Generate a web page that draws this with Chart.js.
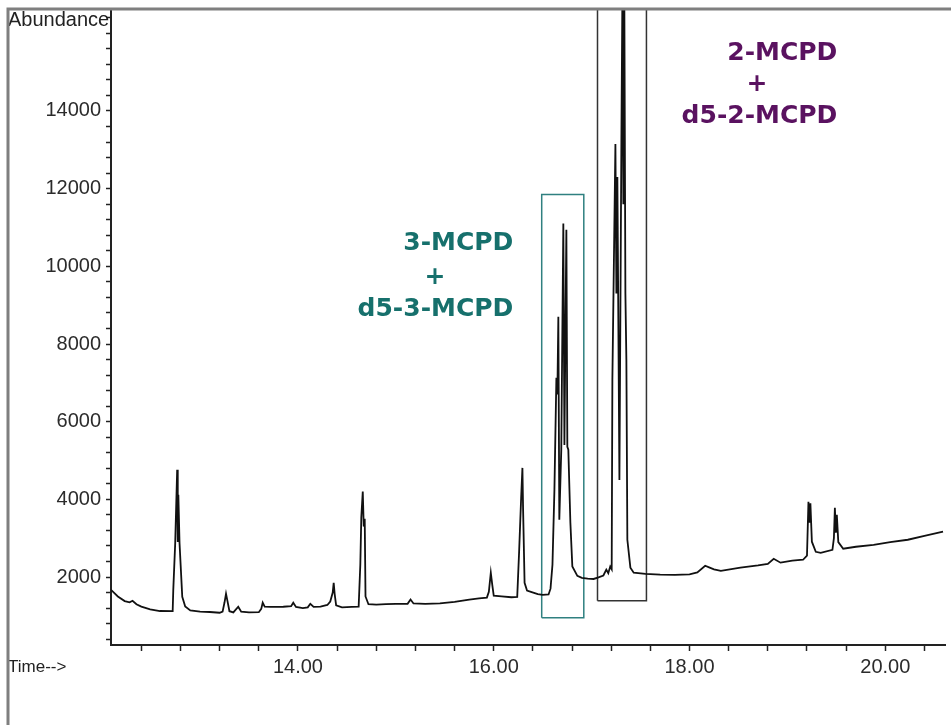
<!DOCTYPE html>
<html>
<head>
<meta charset="utf-8">
<script src="https://cdn.jsdelivr.net/npm/chart.js@4.4.1/dist/chart.umd.min.js"></script>
<style>
  body { margin: 0; background: #fff; }
  #wrap { width: 951px; height: 725px; }
</style>
</head>
<body>
<div id="wrap"><canvas id="chrom" width="951" height="725"></canvas></div>
<script>
// retention time (min) and abundance
const times = [
  12.09, 12.16, 12.23, 12.28, 12.31, 12.35, 12.40, 12.49, 12.59, 12.72,
  12.726, 12.746, 12.766, 12.772, 12.778, 12.79, 12.818, 12.848, 12.90, 13.00,
  13.10, 13.20, 13.23, 13.25, 13.265, 13.28, 13.30, 13.34, 13.39, 13.42,
  13.50, 13.60, 13.625, 13.64, 13.66, 13.72, 13.85, 13.93, 13.952, 13.98,
  14.05, 14.10, 14.126, 14.16, 14.23, 14.30, 14.33, 14.355, 14.365, 14.375,
  14.39, 14.45, 14.55, 14.62, 14.637, 14.647, 14.662, 14.672, 14.682, 14.69,
  14.72, 14.80, 14.90, 15.00, 15.12, 15.15, 15.18, 15.30, 15.45, 15.60,
  15.75, 15.85, 15.93, 15.95, 15.97, 15.985, 16.00, 16.08, 16.18, 16.24,
  16.26, 16.28, 16.293, 16.30, 16.315, 16.34, 16.38, 16.45, 16.50, 16.56,
  16.58, 16.60, 16.62, 16.64, 16.65, 16.66, 16.67, 16.69, 16.711, 16.722,
  16.742, 16.752, 16.762, 16.783, 16.803, 16.854, 16.90, 16.96, 17.02, 17.07,
  17.12, 17.15, 17.17, 17.19, 17.205, 17.212, 17.243, 17.253, 17.263, 17.284,
  17.304, 17.314, 17.324, 17.334, 17.345, 17.355, 17.365, 17.396, 17.43, 17.55,
  17.70, 17.85, 18.00, 18.08, 18.16, 18.20, 18.25, 18.32, 18.52, 18.70,
  18.80, 18.86, 18.93, 19.05, 19.16, 19.20, 19.215, 19.225, 19.235, 19.25,
  19.29, 19.34, 19.46, 19.475, 19.485, 19.495, 19.505, 19.52, 19.57, 19.70,
  19.88, 20.05, 20.23, 20.40, 20.59
];
const abundance = [
  1670, 1500, 1380, 1350, 1390, 1300, 1240, 1170, 1125, 1120,
  1650, 2880, 4760, 2900, 4120, 2880, 1490, 1240, 1140, 1110,
  1100, 1080, 1110, 1350, 1570, 1380, 1120, 1090, 1235, 1110,
  1090, 1095, 1180, 1340, 1240, 1230, 1235, 1250, 1340, 1230,
  1200, 1220, 1310, 1230, 1236, 1280, 1370, 1600, 1850, 1560,
  1270, 1220, 1230, 1240, 2320, 3530, 4200, 3300, 3500, 1500,
  1300, 1290, 1300, 1310, 1310, 1420, 1320, 1310, 1320, 1360,
  1420, 1450, 1470, 1620, 2110, 1800, 1520, 1500, 1480, 1490,
  2700, 4040, 4810, 3730, 1850, 1650, 1620, 1560, 1540, 1550,
  1700, 2320, 4250, 7130, 6700, 8700, 3475, 5280, 11100, 5400,
  10940, 5350, 5280, 3400, 2270, 2030, 1980, 1960, 1950, 1990,
  2040, 2190, 2100, 2270, 2200, 7080, 13150, 9300, 12300, 4500,
  13250, 16900, 11600, 17000, 9300, 7600, 2960, 2240, 2110, 2080,
  2060, 2055, 2070, 2120, 2290, 2250, 2200, 2160, 2240, 2300,
  2340, 2470, 2370, 2420, 2445, 2550, 3940, 3400, 3900, 2910,
  2650, 2625, 2700, 3000, 3780, 3140, 3600, 2900, 2730, 2780,
  2830, 2900, 2960, 3060, 3170
];

// highlight boxes [t1, t2] x [a1, a2]
const box3Time = [16.49, 16.92];
const box3Abund = [950, 11850];
const box2Time = [17.06, 17.56];
const box2Abund = [1390, 17500];

// tick positions (minor every 0.4 min / 400 counts) and the labelled ones
const xTickValues = [12.4, 12.8, 13.2, 13.6, 14.0, 14.4, 14.8, 15.2, 15.6, 16.0, 16.4,
  16.8, 17.2, 17.6, 18.0, 18.4, 18.8, 19.2, 19.6, 20.0, 20.4];
const xTickLabels = ['14.00', '16.00', '18.00', '20.00'];
const yTickValues = [400, 800, 1200, 1600, 2000, 2400, 2800, 3200, 3600, 4000, 4400,
  4800, 5200, 5600, 6000, 6400, 6800, 7200, 7600, 8000, 8400, 8800, 9200, 9600, 10000,
  10400, 10800, 11200, 11600, 12000, 12400, 12800, 13200, 13600, 14000, 14400, 14800,
  15200, 15600, 16000, 16400];
const yTickLabels = ['2000', '4000', '6000', '8000', '10000', '12000', '14000'];

const peakText = ['3-MCPD', '+', 'd5-3-MCPD', '2-MCPD', '+', 'd5-2-MCPD'];
const peakTextTime = [16.20, 15.40, 16.20, 19.51, 18.69, 19.51];
const peakTextAbund = [10580, 9700, 8900, 15470, 14670, 13870];

const teal = '#16706c';
const purple = '#5a1260';

function boxPoints(tr, ar) {
  return [
    { x: tr[0], y: ar[0] }, { x: tr[0], y: ar[1] },
    { x: tr[1], y: ar[1] }, { x: tr[1], y: ar[0] },
    { x: tr[0], y: ar[0] }
  ];
}

const trace = times.map((t, i) => ({ x: t, y: abundance[i] }));

const decor = {
  id: 'decor',
  afterDatasetsDraw(chart) {
    const { ctx, scales: { x, y } } = chart;
    ctx.save();
    ctx.font = 'bold 25px "DejaVu Sans"';
    ctx.textBaseline = 'middle';
    peakText.forEach((txt, i) => {
      ctx.fillStyle = i < 3 ? teal : purple;
      ctx.textAlign = txt === '+' ? 'center' : 'right';
      ctx.fillText(txt, x.getPixelForValue(peakTextTime[i]), y.getPixelForValue(peakTextAbund[i]));
    });
    ctx.restore();
  },
  afterDraw(chart) {
    const ctx = chart.ctx;
    ctx.save();
    ctx.fillStyle = '#222';
    ctx.textBaseline = 'middle';
    ctx.textAlign = 'left';
    ctx.font = '20px "Liberation Sans"';
    ctx.fillText('Abundance', 8, 20);
    ctx.font = '17px "Liberation Sans"';
    ctx.fillText('Time-->', 8, 667);
    // outer frame
    ctx.strokeStyle = '#7f7f7f';
    ctx.lineWidth = 3;
    ctx.beginPath();
    ctx.moveTo(8, 725);
    ctx.lineTo(8, 9);
    ctx.lineTo(951, 9);
    ctx.stroke();
    ctx.restore();
  }
};

new Chart(document.getElementById('chrom'), {
  type: 'line',
  data: {
    datasets: [
      { data: trace, borderColor: '#111', borderWidth: 1.8, pointRadius: 0, tension: 0 },
      { data: boxPoints(box3Time, box3Abund), borderColor: '#2f8080', borderWidth: 1.5, pointRadius: 0, tension: 0 },
      { data: boxPoints(box2Time, box2Abund), borderColor: '#333', borderWidth: 1.5, pointRadius: 0, tension: 0 }
    ]
  },
  options: {
    responsive: false,
    animation: false,
    layout: { padding: { top: 10, right: 6, left: 0, bottom: 0 } },
    plugins: { legend: { display: false }, tooltip: { enabled: false } },
    scales: {
      x: {
        type: 'linear',
        min: 12.09,
        max: 20.61,
        grid: { drawOnChartArea: false, tickLength: 6, color: '#222', tickWidth: 1.5 },
        border: { display: true, color: '#222', width: 2 },
        afterBuildTicks: s => { s.ticks = xTickValues.map(v => ({ value: v })); },
        ticks: {
          autoSkip: false,
          maxRotation: 0,
          minRotation: 0,
          padding: 4,
          color: '#2b2b2b',
          font: { family: '"Liberation Sans"', size: 20 },
          callback: v => {
            const s = Number(v).toFixed(2);
            return xTickLabels.includes(s) ? s : '';
          }
        },
        afterFit: s => { s.height = 80; s.paddingLeft = 0; s.paddingRight = 0; }
      },
      y: {
        type: 'linear',
        min: 250,
        max: 16600,
        grid: { drawOnChartArea: false, tickLength: 5, color: '#222', tickWidth: 1.5 },
        border: { display: true, color: '#222', width: 2 },
        afterBuildTicks: s => { s.ticks = yTickValues.map(v => ({ value: v })); },
        ticks: {
          autoSkip: false,
          padding: 5,
          color: '#2b2b2b',
          font: { family: '"Liberation Sans"', size: 20 },
          callback: v => {
            const s = String(Math.round(Number(v)));
            return yTickLabels.includes(s) ? s : '';
          }
        },
        afterFit: s => { s.width = 111; s.paddingTop = 0; s.paddingBottom = 0; }
      }
    }
  },
  plugins: [decor]
});
</script>
</body>
</html>
